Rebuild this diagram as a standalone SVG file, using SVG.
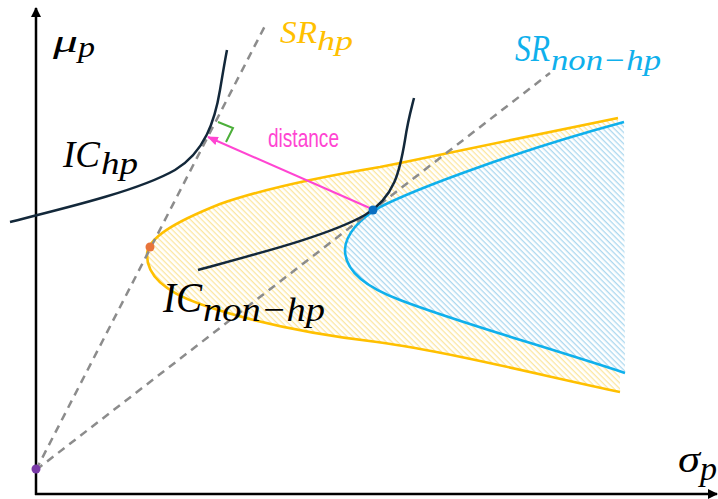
<svg xmlns="http://www.w3.org/2000/svg" width="718" height="499" viewBox="0 0 718 499">
<style>
.math{font-family:"Liberation Serif","DejaVu Serif",serif;font-style:italic}
.axis{stroke:#000;stroke-width:2.5;fill:none}
.dash{stroke:#8c8c8c;stroke-width:2.5;stroke-dasharray:8 6;fill:none}
.ic{stroke:#13283a;stroke-width:2.5;fill:none}
.yel{stroke:#ffc000;stroke-width:2.6;fill:none}
.blu{stroke:#0fb0ec;stroke-width:2.6;fill:none}
</style>
<defs>
<pattern id="hy" patternUnits="userSpaceOnUse" width="10" height="4" patternTransform="rotate(45)">
<rect x="0" y="0" width="10" height="1.3" fill="#fce6a0"/>
</pattern>
<pattern id="hb" patternUnits="userSpaceOnUse" width="10" height="4" patternTransform="rotate(45)">
<rect x="0" y="0" width="10" height="1.3" fill="#acd8ef"/>
</pattern>
<marker id="ah" viewBox="0 0 10 10" refX="9" refY="5" markerWidth="10" markerHeight="10" markerUnits="userSpaceOnUse" orient="auto">
<path d="M0,0 L10,5 L0,10 z" fill="#000"/>
</marker>
<marker id="am" viewBox="0 0 10 10" refX="9" refY="5" markerWidth="11" markerHeight="11" markerUnits="userSpaceOnUse" orient="auto">
<path d="M0,1 L10,5 L0,9 z" fill="#ff45d2"/>
</marker>
</defs>

<g id="regions">
<path d="M618,118 C540,134 460,151 380,167 C320,177 260,190 220,204 C175,222 147,238 147,255 C147,272 160,290 200,304 C240,318 300,333 377,342 C450,352 540,375 620,392 Z" fill="url(#hy)"/>
<path d="M624,122 C520,150 420,187 380,207 C360,218 345,235 345,250 C345,268 360,285 400,300 C460,323 540,345 625,373 Z" fill="#fff"/>
<path d="M624,122 C520,150 420,187 380,207 C360,218 345,235 345,250 C345,268 360,285 400,300 C460,323 540,345 625,373 Z" fill="url(#hb)"/>
<path class="yel" d="M618,118 C540,134 460,151 380,167 C320,177 260,190 220,204 C175,222 147,238 147,255 C147,272 160,290 200,304 C240,318 300,333 377,342 C450,352 540,375 620,392"/>
<path class="blu" d="M624,122 C520,150 420,187 380,207 C360,218 345,235 345,250 C345,268 360,285 400,300 C460,323 540,345 625,373"/>
</g>

<g id="axes">
<line class="axis" x1="36" y1="495" x2="36" y2="8" marker-end="url(#ah)"/>
<line class="axis" x1="35" y1="494" x2="717" y2="494" marker-end="url(#ah)"/>
</g>

<g id="connectors">
<line class="dash" x1="36" y1="470" x2="267" y2="22"/>
<line class="dash" x1="36" y1="470" x2="550" y2="73"/>
<path class="ic" d="M10,222 C70,207 140,190 175,170 C205,152 215,120 220,90 C223,72 225,60 227,50"/>
<path class="ic" d="M198,270 C260,253 330,235 365,215 C395,197 400,170 405,140 C408,120 411,110 414,98"/>
<line x1="372" y1="209" x2="208" y2="137" stroke="#ff45d2" stroke-width="2" marker-end="url(#am)"/>
<polyline points="218,122 233,128 226,142" fill="none" stroke="#4caf3a" stroke-width="2"/>
</g>

<g id="points">
<circle cx="36" cy="469" r="4.5" fill="#7a3aa8"/>
<circle cx="150" cy="247" r="4.5" fill="#e8743b"/>
<circle cx="373" cy="210" r="4.5" fill="#0a6fc2"/>
</g>

<g id="labels">
<g id="mu-label" class="math" fill="#000">
<text x="53" y="52" font-size="32" textLength="25" lengthAdjust="spacingAndGlyphs">μ</text>
<text x="78" y="57" font-size="29" textLength="17" lengthAdjust="spacingAndGlyphs">p</text>
</g>
<g id="sigma-label" class="math" fill="#000">
<text x="678" y="472" font-size="38" textLength="22" lengthAdjust="spacingAndGlyphs">σ</text>
<text x="700" y="480" font-size="33" textLength="17" lengthAdjust="spacingAndGlyphs">p</text>
</g>
<g id="ic-hp" class="math" fill="#000">
<text x="63" y="167" font-size="38" textLength="37" lengthAdjust="spacingAndGlyphs">IC</text>
<text x="101" y="174" font-size="31" textLength="37" lengthAdjust="spacingAndGlyphs">hp</text>
</g>
<g id="ic-non-hp" class="math" fill="#000">
<text x="163" y="312" font-size="43" textLength="39" lengthAdjust="spacingAndGlyphs">IC</text>
<text x="203" y="321" font-size="34" textLength="122" lengthAdjust="spacingAndGlyphs">non−hp</text>
</g>
<g id="sr-hp" class="math" fill="#ffc000">
<text x="280" y="43" font-size="32" textLength="37" lengthAdjust="spacingAndGlyphs">SR</text>
<text x="317" y="50" font-size="28" textLength="36" lengthAdjust="spacingAndGlyphs">hp</text>
</g>
<g id="sr-non-hp" class="math" fill="#0fb0ec">
<text x="515" y="61" font-size="37" textLength="35" lengthAdjust="spacingAndGlyphs">SR</text>
<text x="551" y="70" font-size="30" textLength="110" lengthAdjust="spacingAndGlyphs">non−hp</text>
</g>
<g id="distance-label">
<text x="268" y="147" font-family="Liberation Sans, Arial, sans-serif" font-size="25" fill="#ff45d2" textLength="71" lengthAdjust="spacingAndGlyphs">distance</text>
</g>
</g>
</svg>
